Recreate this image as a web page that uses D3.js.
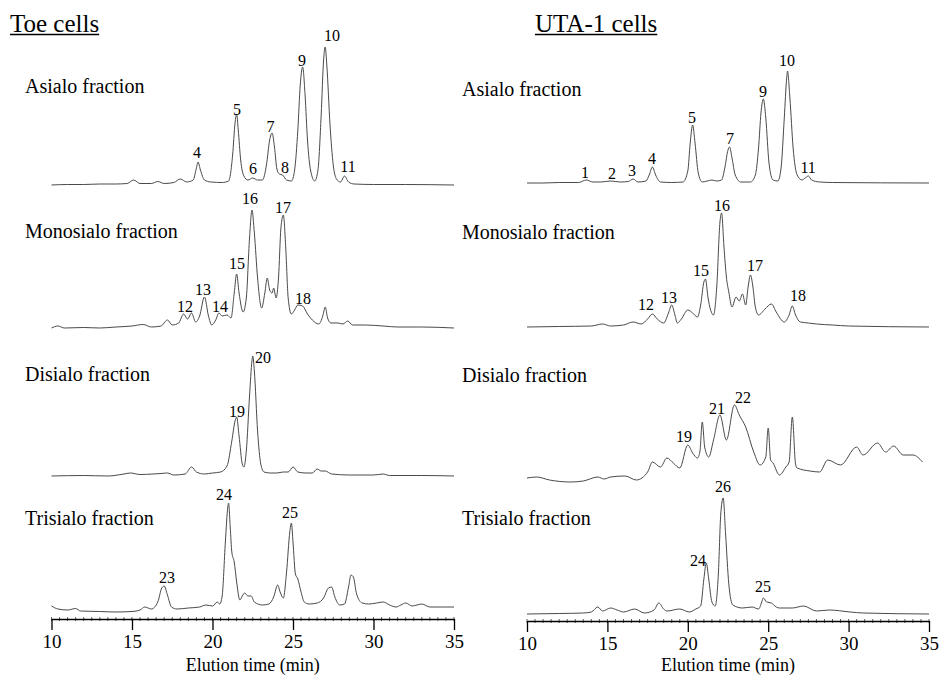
<!DOCTYPE html>
<html>
<head>
<meta charset="utf-8">
<script src="https://cdn.jsdelivr.net/npm/d3@7"></script>
<style>
  body { margin: 0; background: #fff; }
  text { font-family: "Liberation Serif", "Times New Roman", serif; fill: #000; }
</style>
</head>
<body>
<div id="chart"></div>
<script>
// elution time (min) vs detector signal (arbitrary units)
var timeTicks = [10, 15, 20, 25, 30, 35];
var cellTitles = ["Toe cells", "UTA-1 cells"];
var fractionNames = ["Asialo fraction", "Monosialo fraction", "Disialo fraction", "Trisialo fraction"];

// Toe cells
var toeAsialo = [[10,0],[11,0.5],[12,0.5],[13,1],[14,1],[14.7,1.5],[15.1,5],[15.5,1.5],[16.2,1.5],[16.6,3.5],[17.0,1.5],[17.6,2.5],[18.0,6],[18.4,3],[18.8,5],[19.0,17],[19.1,23],[19.25,15],[19.5,5],[19.9,3],[20.6,2.5],[21.0,4],[21.25,30],[21.4,62],[21.5,71],[21.6,55],[21.75,25],[21.95,9],[22.2,5],[22.5,7],[22.8,5],[23.1,5],[23.35,20],[23.55,45],[23.7,52],[23.85,38],[24.0,16],[24.15,11],[24.35,10],[24.6,5],[24.9,4],[25.1,15],[25.3,55],[25.45,100],[25.6,118],[25.75,90],[25.9,45],[26.1,14],[26.35,4],[26.55,15],[26.75,70],[26.9,125],[27.0,138],[27.1,120],[27.3,60],[27.5,20],[27.7,6],[27.95,3],[28.2,9],[28.45,3],[28.8,1],[30,0.5],[32,0.5],[35,0]];
var toeMonosialo = [[10,0],[10.4,2],[10.8,0],[12,0.5],[13,0],[14,1],[15,2],[15.7,3.5],[16.2,1],[16.8,2],[17.2,8],[17.5,3],[17.9,5],[18.2,14],[18.45,9],[18.7,15],[18.95,6],[19.2,12],[19.5,31],[19.75,12],[19.95,3],[20.2,8],[20.4,15],[20.6,12],[20.9,13],[21.15,10],[21.35,35],[21.5,54],[21.65,35],[21.9,16],[22.1,30],[22.3,90],[22.45,118],[22.6,95],[22.8,50],[23.05,20],[23.25,35],[23.4,50],[23.55,38],[23.7,35],[23.8,40],[23.95,30],[24.1,50],[24.25,100],[24.4,113],[24.55,80],[24.7,30],[24.9,14],[25.1,18],[25.3,23],[25.6,22],[25.9,14],[26.2,8],[26.6,4],[26.85,12],[27.0,21],[27.15,10],[27.35,5],[27.8,5],[28.1,4],[28.4,7],[28.7,3],[29.5,3],[30.6,2],[31.5,1],[33,1],[35,0]];
var toeDisialo = [[10,0],[12,0.5],[13.5,0],[14.5,2],[14.9,3],[15.5,1.5],[16.3,2],[16.8,2.5],[17.2,3],[17.6,1],[18.3,2],[18.7,9],[19.0,4],[19.5,2],[20.0,3],[20.5,4],[20.9,10],[21.2,35],[21.4,55],[21.5,59],[21.65,40],[21.85,12],[21.95,9],[22.1,25],[22.3,80],[22.45,115],[22.5,120],[22.6,105],[22.8,45],[23.0,12],[23.2,4],[23.6,3],[24.0,3],[24.4,4],[24.7,4],[25.0,9],[25.3,4],[25.8,3],[26.2,3],[26.5,7],[26.75,5],[27.0,5],[27.4,2],[28.5,1],[30,1],[30.6,2],[31,0.5],[33,0.5],[35,0]];
var toeTrisialo = [[10,6],[10.4,3],[11.0,2],[11.5,3.5],[11.8,1],[13,0.5],[14,0],[15,0.5],[15.5,2],[15.8,5],[16.2,3],[16.6,10],[16.85,24],[17.0,26],[17.2,17],[17.45,5],[17.8,3],[18.5,4],[19.2,5],[19.6,7],[20.0,6],[20.3,10],[20.45,8],[20.6,16],[20.8,70],[20.95,105],[21.0,109],[21.1,85],[21.2,60],[21.35,50],[21.5,30],[21.7,12],[21.85,16],[22.0,19],[22.2,16],[22.4,16],[22.6,10],[23.1,7],[23.5,8],[23.8,15],[24.05,27],[24.2,20],[24.4,14],[24.6,40],[24.8,80],[24.9,89],[25.0,70],[25.15,38],[25.3,33],[25.5,20],[25.7,10],[26.0,8],[26.5,9],[26.9,14],[27.2,24],[27.4,25],[27.6,15],[27.9,7],[28.2,8],[28.45,25],[28.6,37],[28.75,35],[28.95,18],[29.3,9],[29.7,8],[30.2,9],[30.6,10],[31.0,7],[31.4,5],[31.7,7],[32.0,9],[32.4,6],[32.7,7],[33.0,8],[33.5,5],[34.2,5],[35,5]];

// UTA-1 cells
var utaAsialo = [[10,0],[11,0],[12,0.5],[13.2,0.5],[13.7,3],[14.1,1],[14.6,1],[15.2,2],[15.8,1],[16.3,1.5],[16.6,4],[16.9,1],[17.4,2],[17.6,8],[17.8,16],[18.0,8],[18.3,1],[19,0.5],[19.7,1],[20.0,12],[20.15,40],[20.3,58],[20.45,40],[20.65,10],[20.9,1],[21.2,2],[21.5,3],[21.8,2],[22.1,3],[22.3,15],[22.5,33],[22.6,36],[22.75,25],[22.95,8],[23.3,1],[23.9,1],[24.2,8],[24.4,35],[24.55,70],[24.7,84],[24.85,65],[25.05,20],[25.3,3],[25.6,2],[25.8,15],[26.0,65],[26.15,105],[26.2,112],[26.35,85],[26.55,35],[26.8,8],[27.1,3],[27.3,5],[27.5,7],[27.7,3],[28.2,1],[29,0.5],[35,0]];
var utaMonosialo = [[10,0],[12,0.5],[14.0,1],[14.7,3],[15.2,1],[16.0,2],[16.6,5],[17.1,3],[17.5,8],[17.8,13],[18.1,8],[18.5,4],[18.8,14],[19.0,22],[19.2,12],[19.35,4],[19.6,8],[20.0,17],[20.3,14],[20.6,10],[20.8,22],[21.0,45],[21.1,48],[21.25,30],[21.6,12],[21.8,40],[22.0,105],[22.1,114],[22.25,80],[22.4,50],[22.55,35],[22.75,20],[23.0,30],[23.2,26],[23.4,33],[23.6,22],[23.75,40],[23.9,52],[24.05,40],[24.2,20],[24.4,12],[24.8,18],[25.2,23],[25.5,15],[26.0,5],[26.3,12],[26.5,21],[26.7,12],[27.0,5],[27.5,4],[28.0,3],[29,2],[30,1],[35,0]];
var utaDisialo = [[10,4],[10.6,5],[11.4,2],[12.7,0],[13.5,1],[14.4,5],[14.8,3],[15.2,5],[16.1,6],[16.8,2],[17.5,10],[17.8,20],[18.3,15],[18.7,24],[19.1,19],[19.5,14],[20.0,37],[20.3,29],[20.6,24],[20.75,30],[20.9,60],[21.05,35],[21.3,25],[21.6,42],[22.0,67],[22.4,42],[22.9,77],[23.2,67],[23.6,55],[24.1,30],[24.5,17],[24.85,25],[25.0,54],[25.15,22],[25.3,19],[25.7,7],[26.1,15],[26.3,20],[26.5,65],[26.7,18],[26.8,14],[27.6,11],[28.2,10],[28.7,22],[29.5,17],[30.5,35],[30.9,27],[31.8,39],[32.3,30],[32.8,36],[33.4,27],[34.0,27],[34.6,20]];
var utaTrisialo = [[10,0],[12,0.5],[13.5,1],[14.0,2],[14.4,7],[14.7,3],[15.2,6],[15.6,4],[16.0,2],[16.7,5],[17.3,1],[17.9,4],[18.2,11],[18.5,5],[18.7,3],[19.5,5],[20.1,2],[20.5,5],[20.8,8],[21.0,35],[21.15,51],[21.3,35],[21.5,12],[21.7,8],[21.9,40],[22.05,100],[22.2,116],[22.35,80],[22.55,30],[22.8,9],[23.4,6],[24.0,7],[24.4,5],[24.6,12],[24.7,16],[24.9,12],[25.2,11],[25.5,7],[25.7,6],[26.5,6],[27.2,8],[28.0,3],[28.8,4],[30.1,2],[30.9,1],[35,0]];

// peak numbers: [label, time, signal level of the label]
var toeAsialoPeaks = [["4",19.04,33],["5",21.52,76],["6",22.52,17],["7",23.6,59],["8",24.5,18],["9",25.56,125],["10",27.42,150],["11",28.42,19]];
var toeMonosialoPeaks = [["12",18.29,22],["13",19.41,39],["14",20.47,22],["15",21.52,65],["16",22.33,130],["17",24.38,121],["18",25.62,30]];
var toeDisialoPeaks = [["19",21.52,65],["20",23.14,119]];
var toeTrisialoPeaks = [["23",17.17,35],["24",20.71,118],["25",24.81,100]];
var utaAsialoPeaks = [["1",13.61,11],["2",15.29,10],["3",16.53,13],["4",17.77,25],["5",20.26,66],["7",22.62,45],["9",24.68,92],["10",26.17,123],["11",27.48,16]];
var utaMonosialoPeaks = [["12",17.4,23],["13",18.83,30],["15",20.82,57],["16",22.13,122],["17",24.18,62],["18",26.85,32]];
var utaDisialoPeaks = [["19",19.76,46],["21",21.82,74],["22",23.43,85]];
var utaTrisialoPeaks = [["24",20.63,54],["26",22.19,128],["25",24.68,28]];

var width = 946, height = 679;
var serif = "'Liberation Serif', 'Times New Roman', serif";

var svg = d3.select("#chart").append("svg")
    .attr("width", width)
    .attr("height", height);

var panels = [
  { title: cellTitles[0], titleX: 10, labelX: 25, range: [51.5, 454], axisY: 619,
    baselines: [185, 328, 476, 612], labelYs: [86, 231, 374, 518],
    traces: [toeAsialo, toeMonosialo, toeDisialo, toeTrisialo],
    peaks: [toeAsialoPeaks, toeMonosialoPeaks, toeDisialoPeaks, toeTrisialoPeaks] },
  { title: cellTitles[1], titleX: 535, labelX: 462, range: [527, 929], axisY: 621,
    baselines: [183, 327, 482, 614], labelYs: [89, 232, 375, 518],
    traces: [utaAsialo, utaMonosialo, utaDisialo, utaTrisialo],
    peaks: [utaAsialoPeaks, utaMonosialoPeaks, utaDisialoPeaks, utaTrisialoPeaks] }
];

panels.forEach(function(p) {
    var x = d3.scaleLinear().domain([10, 35]).range(p.range);

    // underlined cell title
    var title = svg.append("text")
        .attr("x", p.titleX)
        .attr("y", 32)
        .style("font-size", "25px")
        .text(p.title);
    var tw = title.node().getComputedTextLength();
    svg.append("line")
        .attr("x1", p.titleX).attr("x2", p.titleX + tw)
        .attr("y1", 34.5).attr("y2", 34.5)
        .attr("stroke", "#000")
        .attr("stroke-width", 1.3);

    p.traces.forEach(function(trace, i) {
        var y = d3.scaleLinear().domain([0, 150]).range([p.baselines[i], p.baselines[i] - 150]);

        var line = d3.line()
            .x(function(d) { return x(d[0]); })
            .y(function(d) { return y(d[1]); })
            .curve(d3.curveMonotoneX);

        svg.append("path")
            .datum(trace)
            .attr("d", line)
            .attr("fill", "none")
            .attr("stroke", "#4a4a4a")
            .attr("stroke-width", 1);

        svg.append("text")
            .attr("x", p.labelX)
            .attr("y", p.labelYs[i])
            .attr("dy", "0.35em")
            .style("font-size", "20px")
            .text(fractionNames[i]);

        svg.selectAll(null)
            .data(p.peaks[i])
          .enter().append("text")
            .attr("x", function(d) { return x(d[1]); })
            .attr("y", function(d) { return y(d[2]); })
            .attr("dy", "0.35em")
            .style("text-anchor", "middle")
            .style("font-size", "16px")
            .text(function(d) { return d[0]; });
    });

    var axisG = svg.append("g")
        .attr("transform", "translate(0," + p.axisY + ")");

    // minor ticks every half minute
    axisG.selectAll(".minor")
        .data(d3.range(10, 35.01, 0.5))
      .enter().append("line")
        .attr("class", "minor")
        .attr("x1", function(d) { return x(d); })
        .attr("x2", function(d) { return x(d); })
        .attr("y1", -2).attr("y2", 2)
        .attr("stroke", "#333")
        .attr("stroke-width", 0.8);

    axisG.call(d3.axisBottom(x)
            .tickValues(timeTicks)
            .tickSize(11)
            .tickSizeOuter(0)
            .tickPadding(5)
            .tickFormat(d3.format("d")))
        .attr("font-family", serif)
        .attr("font-size", 19)
        .call(function(g) {
            g.select(".domain").attr("stroke-width", 1.5);
            g.selectAll(".tick line").attr("stroke-width", 1.3);
            g.selectAll(".tick text")
                .style("font-family", serif)
                .style("font-size", "19px")
                .attr("fill", "#000");
        });

    svg.append("text")
        .attr("x", (p.range[0] + p.range[1]) / 2)
        .attr("y", 671)
        .style("text-anchor", "middle")
        .style("font-family", serif)
        .style("font-size", "18px")
        .text("Elution time (min)");
});
</script>
</body>
</html>
